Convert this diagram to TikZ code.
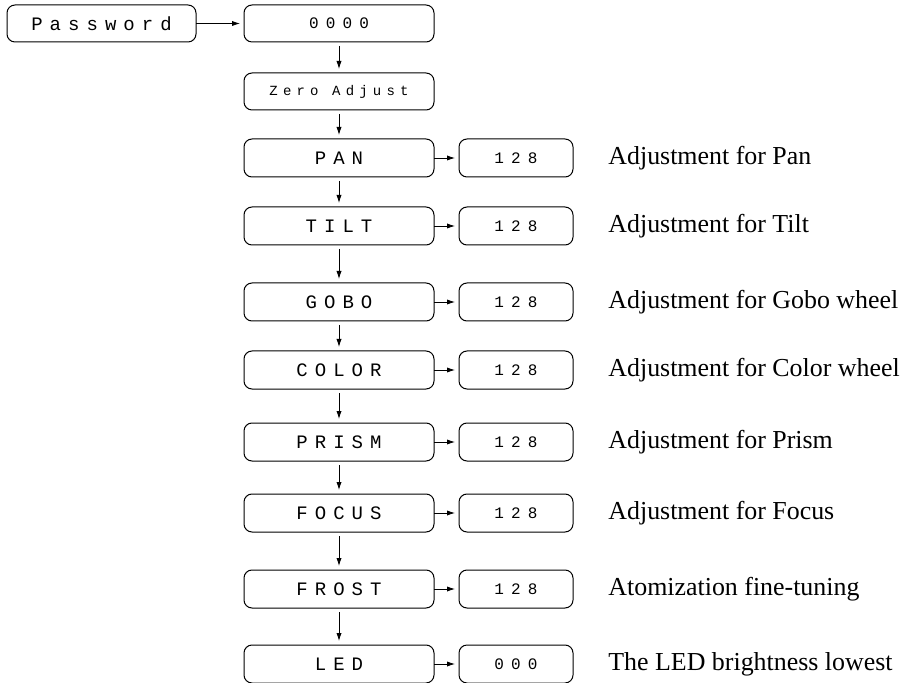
\documentclass[tikz,border=0pt]{standalone}
\usepackage{fontspec}
\setmainfont{Liberation Serif}
\newfontfamily\lcdfont[LetterSpace=37]{Liberation Mono}
\newfontfamily\lcddigits[LetterSpace=45]{Liberation Mono}
\usetikzlibrary{positioning,arrows.meta}
\tikzset{
  >={Latex[length=4pt,width=2.6pt]},
  menu module/.style={draw, rounded corners=4pt, line width=0.5pt, inner sep=0pt, outer sep=0pt, minimum width=95pt, minimum height=19pt, font=\lcdfont\fontsize{9.5}{11}\selectfont},
  small module/.style={menu module, font=\lcdfont\fontsize{7}{9}\selectfont},
  value module/.style={menu module, minimum width=57pt, font=\lcddigits\fontsize{8}{9}\selectfont},
  note/.style={inner sep=0pt, font=\fontsize{12.95}{15}\selectfont},
  menu down arrow/.style={->, shorten <=2pt, shorten >=2pt},
  menu right arrow/.style={->, shorten >=2pt},
}

\begin{document}
\begin{tikzpicture}
\useasboundingbox (0,0) rectangle (454pt,-341.5pt);
% the nodes
\node [menu module,minimum width=94.5pt,minimum height=18.5pt,anchor=north west] (adjP) at (3.5pt,-2.5pt) {Password};
\node [value module,minimum width=95pt,minimum height=18.5pt,right=24pt of adjP] (adjA) {0000};
\node [small module,minimum height=18.5pt,below=15.5pt of adjA] (adjB) {Zero Adjust};
\node [menu module,below=14.5pt of adjB] (adjC) {PAN};
\node [menu module,below=15pt of adjC] (adjD) {TILT};
\node [menu module,below=19pt of adjD] (adjE) {GOBO};
\node [menu module,below=15pt of adjE] (adjF) {COLOR};
\node [menu module,below=17pt of adjF] (adjG) {PRISM};
\node [menu module,below=16.5pt of adjG] (adjH) {FOCUS};
\node [menu module,below=19pt of adjH] (adjJ) {FROST};
\node [menu module,below=18.5pt of adjJ] (adjK) {LED};
% the values
\node [value module,right=12.5pt of adjC] (valC) {128};
\node [value module,right=12.5pt of adjD] (valD) {128};
\node [value module,right=12.5pt of adjE] (valE) {128};
\node [value module,right=12.5pt of adjF] (valF) {128};
\node [value module,right=12.5pt of adjG] (valG) {128};
\node [value module,right=12.5pt of adjH] (valH) {128};
\node [value module,right=12.5pt of adjJ] (valJ) {128};
\node [value module,right=12.5pt of adjK] (valK) {000};
% the notes
\node [note,right=17.5pt of valC] (txtC) {Adjustment for Pan};
\node [note,right=17.5pt of valD] (txtD) {Adjustment for Tilt};
\node [note,right=17.5pt of valE] (txtE) {Adjustment for Gobo wheel};
\node [note,right=17.5pt of valF] (txtF) {Adjustment for Color wheel};
\node [note,right=17.5pt of valG] (txtG) {Adjustment for Prism};
\node [note,right=17.5pt of valH] (txtH) {Adjustment for Focus};
\node [note,right=17.5pt of valJ] (txtJ) {Atomization fine-tuning};
\node [note,right=17.5pt of valK] (txtK) {The LED brightness lowest};
%drawings of vectors
\draw[menu right arrow] (adjP) -- (adjA);
\draw[menu down arrow] (adjA) -- (adjB);
\draw[menu down arrow] (adjB) -- (adjC);
\draw[menu down arrow] (adjC) -- (adjD);
\draw[menu down arrow] (adjD) -- (adjE);
\draw[menu down arrow] (adjE) -- (adjF);
\draw[menu down arrow] (adjF) -- (adjG);
\draw[menu down arrow] (adjG) -- (adjH);
\draw[menu down arrow] (adjH) -- (adjJ);
\draw[menu down arrow] (adjJ) -- (adjK);

\draw[menu right arrow] (adjC) -- (valC);
\draw[menu right arrow] (adjD) -- (valD);
\draw[menu right arrow] (adjE) -- (valE);
\draw[menu right arrow] (adjF) -- (valF);
\draw[menu right arrow] (adjG) -- (valG);
\draw[menu right arrow] (adjH) -- (valH);
\draw[menu right arrow] (adjJ) -- (valJ);
\draw[menu right arrow] (adjK) -- (valK);
\end{tikzpicture}
\end{document}
